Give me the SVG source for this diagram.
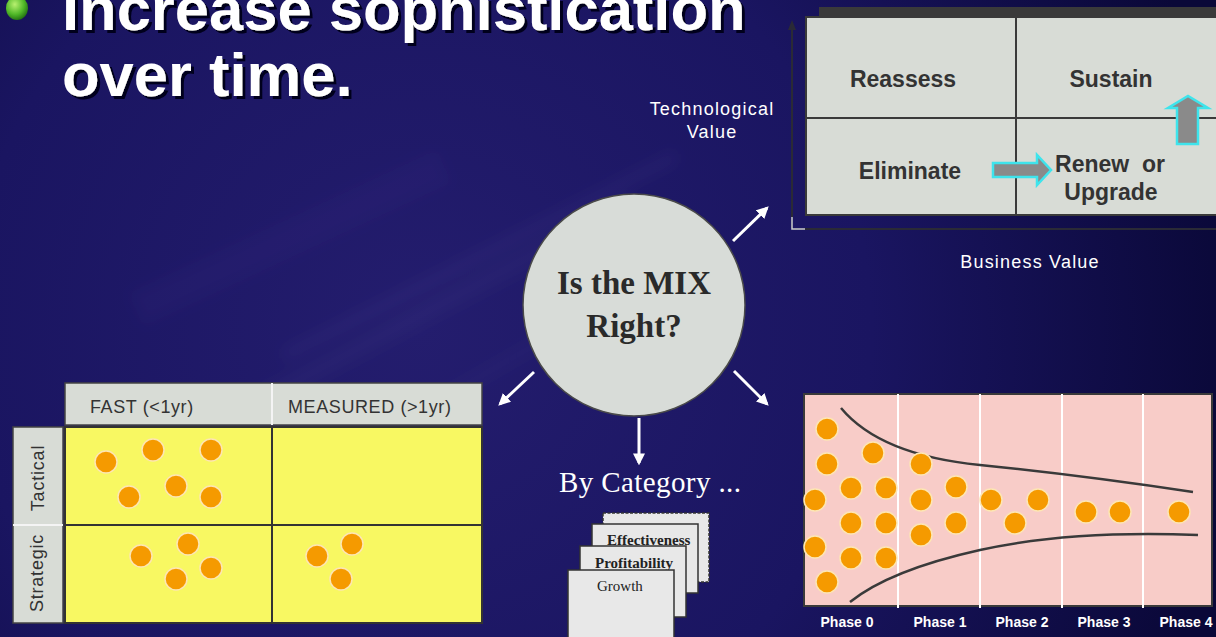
<svg xmlns="http://www.w3.org/2000/svg" width="1216" height="637" viewBox="0 0 1216 637">
  <defs>
    <radialGradient id="bg" cx="420" cy="330" r="820" gradientUnits="userSpaceOnUse">
      <stop offset="0" stop-color="#241d6e"/>
      <stop offset="0.55" stop-color="#1a1561"/>
      <stop offset="1" stop-color="#0a0838"/>
    </radialGradient>
    <radialGradient id="bullet" cx="0.4" cy="0.35" r="0.7">
      <stop offset="0" stop-color="#b8f070"/>
      <stop offset="0.6" stop-color="#50b828"/>
      <stop offset="1" stop-color="#1e6a10"/>
    </radialGradient>
    <filter id="soft" x="-20%" y="-50%" width="140%" height="200%">
      <feGaussianBlur stdDeviation="7"/>
    </filter>
    <filter id="drop" x="-5%" y="-20%" width="110%" height="140%">
      <feDropShadow dx="3" dy="3" stdDeviation="0.6" flood-color="#05041a" flood-opacity="1"/>
    </filter>
    <marker id="wh" viewBox="0 0 10 10" refX="8" refY="5" markerWidth="4" markerHeight="4" orient="auto" markerUnits="strokeWidth">
      <path d="M0,0 L10,5 L0,10 z" fill="#ffffff"/>
    </marker>
    <marker id="ax" viewBox="0 0 10 10" refX="8" refY="5" markerWidth="5" markerHeight="5" orient="auto" markerUnits="strokeWidth">
      <path d="M0,1 L10,5 L0,9 z" fill="#2a2a36"/>
    </marker>
    <style>
      .title { font-family: "Liberation Sans", Arial, sans-serif; font-weight: bold; font-size: 61.5px; fill: #ffffff; filter: url(#drop); }
      .lbl { font-family: "Liberation Sans", Arial, sans-serif; font-size: 18px; fill: #ffffff; letter-spacing: 1.2px; }
      .cell { font-family: "Liberation Sans", Arial, sans-serif; font-weight: bold; font-size: 23px; fill: #333333; text-anchor: middle; white-space: pre; }
      .hdr { font-family: "Liberation Sans", Arial, sans-serif; font-size: 18px; fill: #333333; letter-spacing: 0.6px; }
      .side { font-family: "Liberation Sans", Arial, sans-serif; font-size: 18px; fill: #333333; letter-spacing: 0.8px; text-anchor: middle; }
      .phase { font-family: "Liberation Sans", Arial, sans-serif; font-weight: bold; font-size: 14px; fill: #ffffff; text-anchor: middle; }
      .card { fill: #e8e8e8; stroke: #333333; stroke-width: 1.5; }
      .cardtxt { font-family: "Liberation Serif", "Times New Roman", serif; font-size: 15px; fill: #222222; }
      .dot { fill: #f59a00; stroke: #fde6b4; stroke-width: 1.5; }
      .pane { fill: #d8dcd6; stroke: #3a3a3a; stroke-width: 2; }
      .conn { stroke: #ffffff; stroke-width: 3; fill: none; marker-end: url(#wh); }
      .block { fill: #8a8a8a; stroke: #3ee4ec; stroke-width: 2.5; stroke-linejoin: miter; }
    </style>
  </defs>

  <!-- backdrop -->
  <rect x="0" y="0" width="1216" height="637" fill="url(#bg)"/>
  <g filter="url(#soft)" fill="#7a70c0">
    <rect x="200" y="300" width="460" height="20" opacity="0.06" transform="rotate(-28 430 310)"/>
    <rect x="260" y="250" width="440" height="12" opacity="0.07" transform="rotate(-27 480 256)"/>
    <rect x="300" y="360" width="400" height="10" opacity="0.06" transform="rotate(-30 500 365)"/>
    <rect x="120" y="220" width="340" height="36" opacity="0.04" transform="rotate(-25 290 238)"/>
  </g>

  <!-- heading -->
  <g id="heading">
    <ellipse cx="17" cy="8" rx="11" ry="12" fill="url(#bullet)"/>
    <text class="title" x="62" y="30">Increase sophistication</text>
    <text class="title" x="62" y="96">over time.</text>
  </g>

  <!-- value matrix -->
  <g id="value-matrix">
    <rect x="819" y="7" width="400" height="11" fill="#3a3a3a"/>
    <rect class="pane" x="806" y="17" width="420" height="198"/>
    <line x1="1016" y1="17" x2="1016" y2="215" stroke="#3a3a3a" stroke-width="2"/>
    <line x1="806" y1="118" x2="1216" y2="118" stroke="#3a3a3a" stroke-width="2"/>
    <line x1="792" y1="229" x2="792" y2="22" stroke="#2a2a36" stroke-width="2" marker-end="url(#ax)"/>
    <line x1="792" y1="229" x2="1216" y2="229" stroke="#2a2a36" stroke-width="2"/>
    <path d="M792,217 V229 H805" fill="none" stroke="#c8c8d8" stroke-width="1.5"/>
    <text class="cell" x="903" y="87">Reassess</text>
    <text class="cell" x="1111" y="87">Sustain</text>
    <text class="cell" x="910" y="179">Eliminate</text>
    <text class="cell" x="1110" y="172">Renew  or</text>
    <text class="cell" x="1111" y="200">Upgrade</text>
    <polygon class="block" points="993,163 1037,163 1037,155 1051,170 1037,185 1037,177 993,177"/>
    <polygon class="block" points="1177,144 1177,108 1168,108 1188,96 1208,108 1198,108 1198,144"/>
    <text class="lbl" x="712" y="115" text-anchor="middle">Technological</text>
    <text class="lbl" x="712" y="138" text-anchor="middle">Value</text>
    <text class="lbl" x="1030" y="268" text-anchor="middle">Business Value</text>
  </g>

  <!-- central question -->
  <g id="mix-question">
    <circle cx="634" cy="305" r="111" fill="#d8dcd8" stroke="#4a4a4a" stroke-width="1.5"/>
    <text x="634" y="294" text-anchor="middle" font-family="'Liberation Serif', 'Times New Roman', serif" font-weight="bold" font-size="33" fill="#2a2a2a">Is the MIX</text>
    <text x="634" y="337" text-anchor="middle" font-family="'Liberation Serif', 'Times New Roman', serif" font-weight="bold" font-size="33" fill="#2a2a2a">Right?</text>
  </g>

  <!-- connectors -->
  <g id="connectors">
    <line class="conn" x1="733" y1="241" x2="767" y2="208"/>
    <line class="conn" x1="534" y1="372" x2="500" y2="404"/>
    <line class="conn" x1="734" y1="371" x2="767" y2="404"/>
    <line class="conn" x1="639" y1="418" x2="639" y2="463"/>
  </g>

  <!-- timing grid -->
  <g id="timing-grid">
    <rect x="65" y="383" width="417" height="42" fill="#d8dcd6" stroke="#444444" stroke-width="1.5"/>
    <line x1="272" y1="383" x2="272" y2="425" stroke="#f4f4f4" stroke-width="2"/>
    <rect x="13" y="427" width="50" height="196" fill="#d8dcd6" stroke="#444444" stroke-width="1.5"/>
    <line x1="13" y1="525" x2="63" y2="525" stroke="#f4f4f4" stroke-width="2"/>
    <rect x="65" y="427" width="417" height="196" fill="#f8f862" stroke="#333333" stroke-width="2"/>
    <line x1="272" y1="427" x2="272" y2="623" stroke="#333333" stroke-width="2"/>
    <line x1="65" y1="525" x2="482" y2="525" stroke="#333333" stroke-width="2"/>
    <text class="hdr" x="90" y="413">FAST (&lt;1yr)</text>
    <text class="hdr" x="288" y="413">MEASURED (&gt;1yr)</text>
    <text class="side" transform="translate(44,478) rotate(-90)">Tactical</text>
    <text class="side" transform="translate(43,573) rotate(-90)">Strategic</text>
    <circle class="dot" cx="106" cy="462" r="11"/>
    <circle class="dot" cx="153" cy="450" r="11"/>
    <circle class="dot" cx="211" cy="450" r="11"/>
    <circle class="dot" cx="176" cy="486" r="11"/>
    <circle class="dot" cx="129" cy="497" r="11"/>
    <circle class="dot" cx="211" cy="497" r="11"/>
    <circle class="dot" cx="141" cy="556" r="11"/>
    <circle class="dot" cx="188" cy="544" r="11"/>
    <circle class="dot" cx="176" cy="579" r="11"/>
    <circle class="dot" cx="211" cy="568" r="11"/>
    <circle class="dot" cx="317" cy="556" r="11"/>
    <circle class="dot" cx="352" cy="544" r="11"/>
    <circle class="dot" cx="341" cy="579" r="11"/>
  </g>

  <!-- categories -->
  <g id="categories">
    <text x="559" y="492" font-family="'Liberation Serif', 'Times New Roman', serif" font-size="29" fill="#ffffff" letter-spacing="0.4">By Category ...</text>
    <rect class="card" x="603" y="513" width="106" height="69" stroke-dasharray="3 1.5"/>
    <rect class="card" x="592" y="524" width="106" height="69"/>
    <text class="cardtxt" x="607" y="545" font-weight="bold">Effectiveness</text>
    <rect class="card" x="580" y="546" width="106" height="71"/>
    <text class="cardtxt" x="595" y="568" font-weight="bold">Profitability</text>
    <rect class="card" x="568" y="570" width="106" height="75"/>
    <text class="cardtxt" x="597" y="591">Growth</text>
  </g>

  <!-- phase funnel -->
  <g id="phase-funnel">
    <rect x="804" y="394" width="408" height="212" fill="#f8ccc8" stroke="#3a3a3a" stroke-width="2"/>
    <g stroke="#ffffff" stroke-width="2">
      <line x1="898" y1="394" x2="898" y2="608"/>
      <line x1="980" y1="394" x2="980" y2="608"/>
      <line x1="1062" y1="394" x2="1062" y2="608"/>
      <line x1="1143" y1="394" x2="1143" y2="608"/>
    </g>
    <path d="M841,408 Q880,455 980,465 T1193,492" fill="none" stroke="#3a3a3a" stroke-width="2.5"/>
    <path d="M850,602 Q890,570 980,550 T1198,535" fill="none" stroke="#3a3a3a" stroke-width="2.5"/>
    <circle class="dot" cx="827" cy="429" r="11"/>
    <circle class="dot" cx="827" cy="464" r="11"/>
    <circle class="dot" cx="873" cy="453" r="11"/>
    <circle class="dot" cx="815" cy="500" r="11"/>
    <circle class="dot" cx="851" cy="488" r="11"/>
    <circle class="dot" cx="886" cy="488" r="11"/>
    <circle class="dot" cx="851" cy="523" r="11"/>
    <circle class="dot" cx="886" cy="523" r="11"/>
    <circle class="dot" cx="815" cy="547" r="11"/>
    <circle class="dot" cx="851" cy="558" r="11"/>
    <circle class="dot" cx="886" cy="558" r="11"/>
    <circle class="dot" cx="827" cy="582" r="11"/>
    <circle class="dot" cx="921" cy="464" r="11"/>
    <circle class="dot" cx="921" cy="500" r="11"/>
    <circle class="dot" cx="921" cy="535" r="11"/>
    <circle class="dot" cx="956" cy="487" r="11"/>
    <circle class="dot" cx="956" cy="523" r="11"/>
    <circle class="dot" cx="991" cy="500" r="11"/>
    <circle class="dot" cx="1015" cy="523" r="11"/>
    <circle class="dot" cx="1038" cy="500" r="11"/>
    <circle class="dot" cx="1086" cy="512" r="11"/>
    <circle class="dot" cx="1120" cy="512" r="11"/>
    <circle class="dot" cx="1179" cy="512" r="11"/>
    <text class="phase" x="847" y="627">Phase 0</text>
    <text class="phase" x="940" y="627">Phase 1</text>
    <text class="phase" x="1022" y="627">Phase 2</text>
    <text class="phase" x="1104" y="627">Phase 3</text>
    <text class="phase" x="1186" y="627">Phase 4</text>
  </g>
</svg>
